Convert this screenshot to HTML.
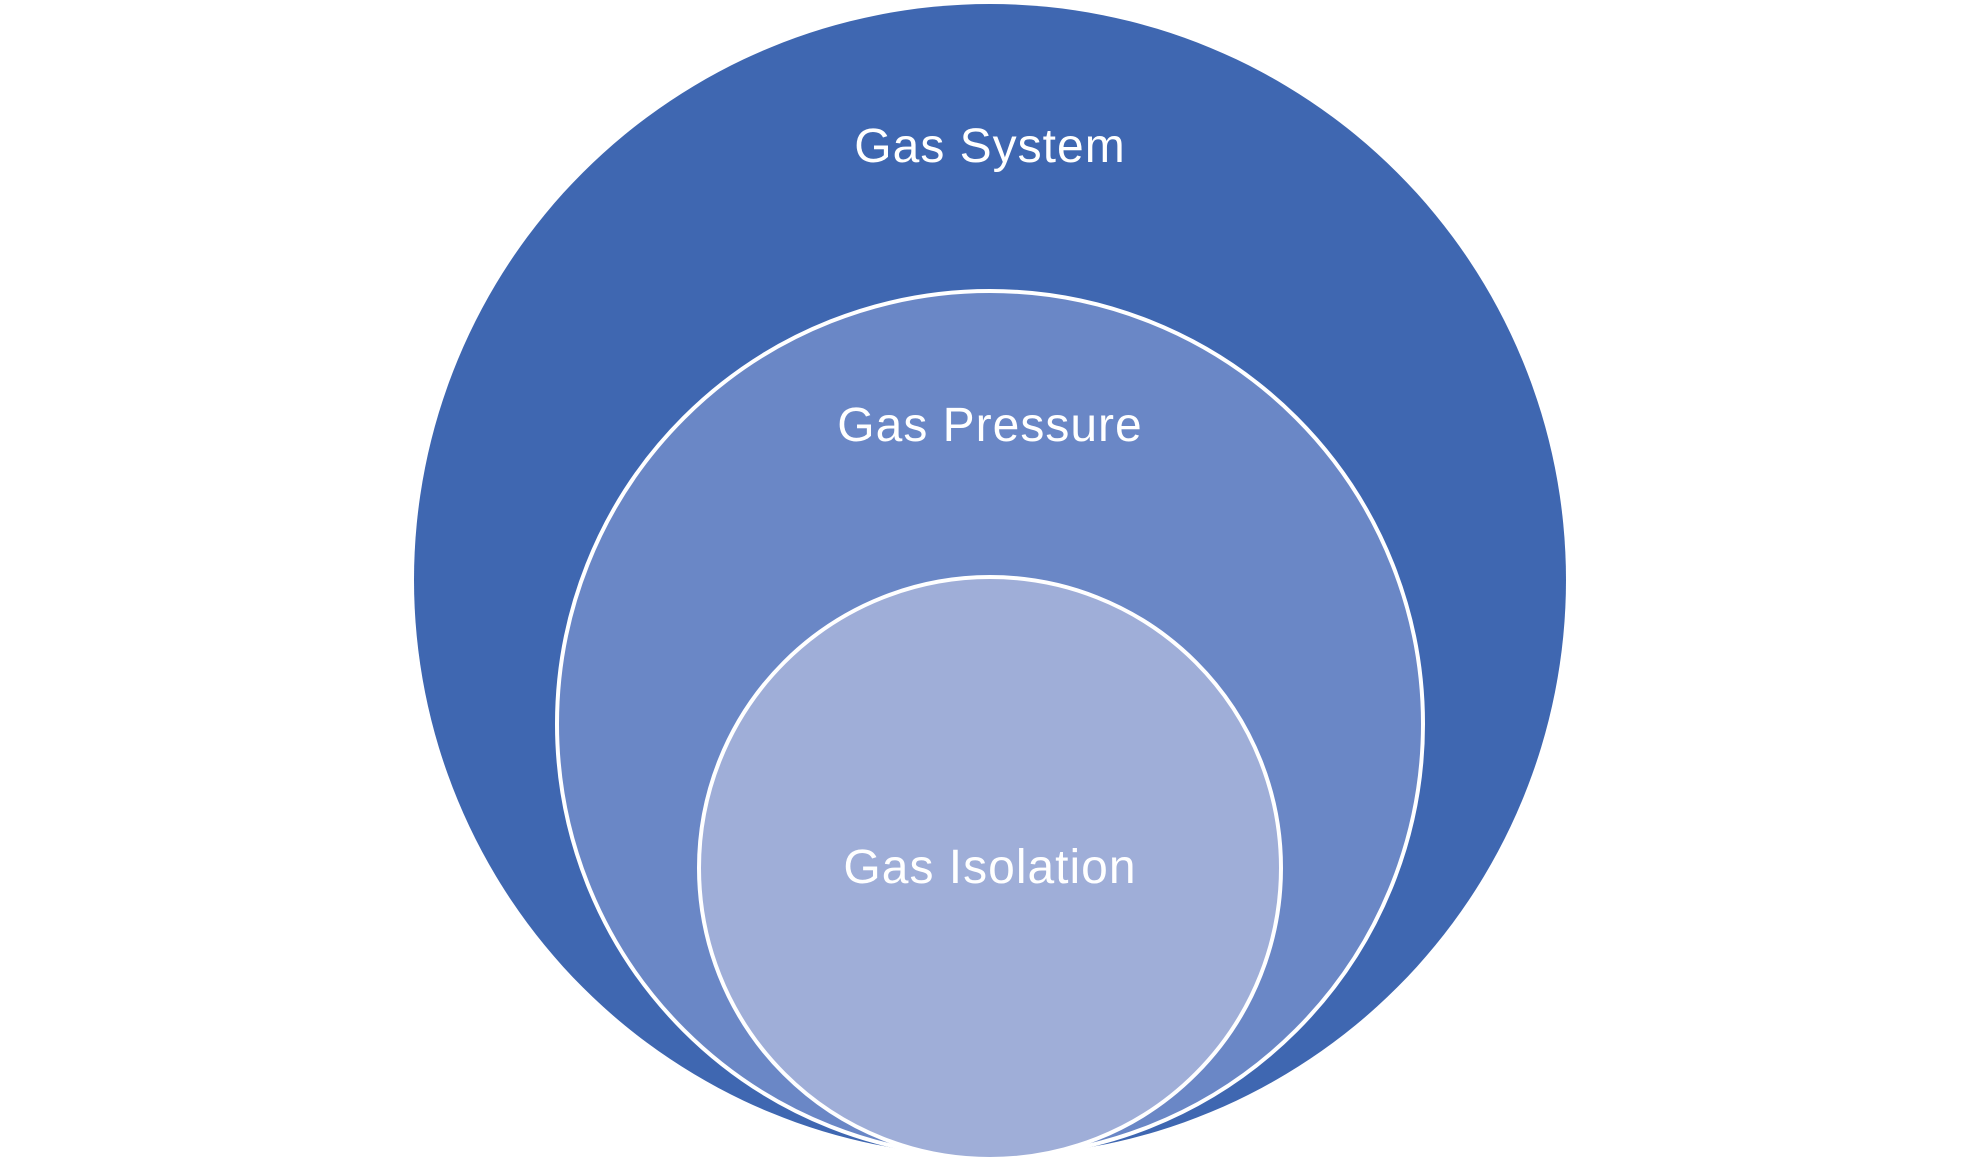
<!DOCTYPE html>
<html><head><meta charset="utf-8"><style>
html,body{margin:0;padding:0;background:#fff;width:1980px;height:1160px;overflow:hidden}
</style></head><body>
<svg width="1980" height="1160" viewBox="0 0 1980 1160" xmlns="http://www.w3.org/2000/svg">
<circle cx="990" cy="580" r="576" fill="#3F67B1"/>
<circle cx="990" cy="724" r="433" fill="#6A87C6" stroke="#fff" stroke-width="4"/>
<circle cx="990" cy="868" r="291" fill="#9FAED8" stroke="#fff" stroke-width="4"/>
<g font-family="Liberation Sans, sans-serif" font-size="48" fill="#fff" text-anchor="middle" letter-spacing="1">
<text x="990" y="162">Gas System</text>
<text x="990" y="441">Gas Pressure</text>
<text x="990" y="883">Gas Isolation</text>
</g>
</svg>
</body></html>
